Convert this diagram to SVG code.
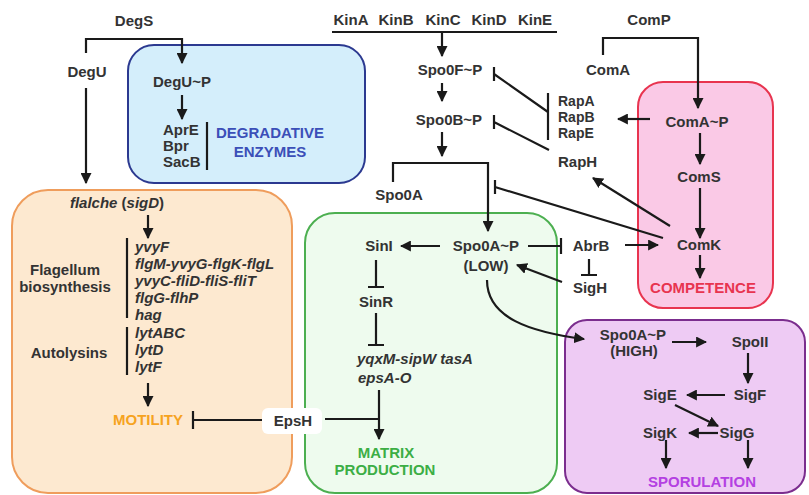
<svg xmlns="http://www.w3.org/2000/svg" width="809" height="495" viewBox="0 0 809 495">
<defs>
<marker id="ah" viewBox="0 0 10 10" refX="9" refY="5" markerWidth="11" markerHeight="11" markerUnits="userSpaceOnUse" orient="auto">
<path d="M0,0 L10,5 L0,10 z" fill="#1a1a1a"/>
</marker>
<style>
.t{font-family:"Liberation Sans",Arial,sans-serif;font-weight:bold;font-size:15px;fill:#333;text-anchor:middle}
.s{text-anchor:start}
.r{font-size:14px}
.i{font-style:italic;text-anchor:start}
.ln{stroke:#1a1a1a;stroke-width:2.2;fill:none}
.ar{marker-end:url(#ah)}
</style>
</defs>
<rect width="809" height="495" fill="#fff"/>

<g id="box-degradative">
<rect x="128" y="45" width="237" height="138" rx="26" fill="#d4eefb" stroke="#2b3990" stroke-width="2"/>
<text class="t" x="270" y="138" style="fill:#3b4fb8">DEGRADATIVE</text>
<text class="t" x="270" y="157" style="fill:#3b4fb8">ENZYMES</text>
</g>
<g id="box-motility">
<rect x="12" y="190" width="280" height="303" rx="36" fill="#fde9d0" stroke="#ef9d5c" stroke-width="2"/>
<text class="t" x="148" y="425" style="fill:#f6a31f">MOTILITY</text>
</g>
<g id="box-matrix">
<rect x="305" y="213" width="252" height="280" rx="30" fill="#eefbee" stroke="#4caf50" stroke-width="2"/>
<text class="t" x="386" y="458" style="fill:#3cae45">MATRIX</text>
<text class="t" x="385" y="475" style="fill:#3cae45">PRODUCTION</text>
</g>
<g id="box-competence">
<rect x="638" y="82" width="135" height="226" rx="25" fill="#fac9e6" stroke="#e8344f" stroke-width="2"/>
<text class="t" x="703" y="293" style="fill:#e8344f">COMPETENCE</text>
</g>
<g id="box-sporulation">
<rect x="565" y="320" width="240" height="173" rx="22" fill="#eecbf4" stroke="#7b2d8e" stroke-width="2"/>
<text class="t" x="702" y="487" style="fill:#b440e2">SPORULATION</text>
</g>

<g id="connectors">
<path class="ln ar" d="M86,53 V39 H182 V63"/>
<path class="ln ar" d="M86,88 V183"/>
<path class="ln ar" d="M182,95 V119"/>
<path class="ln" d="M207,122 V170"/>
<path class="ln" d="M332,32 H557"/>
<path class="ln ar" d="M442,32 V56"/>
<path class="ln ar" d="M442,83 V101"/>
<path class="ln ar" d="M442,132 V156"/>
<path class="ln ar" d="M393,182 V163 H488 V231"/>
<path class="ln" d="M548,93 V140"/>
<path class="ln" d="M548,112 L494,74 M494,67 V81"/>
<path class="ln" d="M549,150 L494,122 M494,115 V129"/>
<path class="ln ar" d="M603,55 V38 H698 V108"/>
<path class="ln ar" d="M650,119 H618"/>
<path class="ln ar" d="M700,133 V164"/>
<path class="ln ar" d="M700,188 V238"/>
<path class="ln ar" d="M700,255 V278"/>
<path class="ln ar" d="M670,226 L593,178"/>
<path class="ln" d="M663,238 L495,187 M495,180 V194"/>
<path class="ln ar" d="M625,245 H658"/>
<path class="ln" d="M528,246 H561 M561,238 V254"/>
<path class="ln" d="M589,259 V275 M581,275 H597"/>
<path class="ln ar" d="M562,282 L517,265"/>
<path class="ln ar" d="M440,246 H401"/>
<path class="ln" d="M376,260 V287 M368,287 H384"/>
<path class="ln" d="M376,313 V345 M368,345 H384"/>
<path class="ln ar" d="M379,390 V439"/>
<path class="ln" d="M325,419 H379"/>
<path class="ln ar" d="M148,215 V238"/>
<path class="ln" d="M127,238 V318"/>
<path class="ln" d="M127,327 V375"/>
<path class="ln ar" d="M148,383 V406"/>
<path class="ln" d="M263,420 H193 M193,411 V429"/>
<path class="ln ar" d="M487,280 C487,318 530,332 584,339"/>
<path class="ln ar" d="M672,342 H706"/>
<path class="ln ar" d="M748,353 V383"/>
<path class="ln ar" d="M725,395 H687"/>
<path class="ln ar" d="M675,405 L718,426"/>
<path class="ln ar" d="M718,433 H689"/>
<path class="ln ar" d="M666,440 V468"/>
<path class="ln ar" d="M748,440 V468"/>
</g>

<g id="DegS"><text class="t" x="134" y="26">DegS</text></g>
<g id="DegU"><text class="t" x="87" y="77">DegU</text></g>
<g id="DegU-P"><text class="t" x="182" y="87">DegU~P</text></g>
<g id="enzymes">
<text class="t s" x="163" y="135">AprE</text>
<text class="t s" x="163" y="151">Bpr</text>
<text class="t s" x="163" y="167">SacB</text>
</g>
<g id="Kin">
<text class="t" x="351" y="25">KinA</text>
<text class="t" x="396" y="25">KinB</text>
<text class="t" x="443" y="25">KinC</text>
<text class="t" x="489" y="25">KinD</text>
<text class="t" x="535" y="25">KinE</text>
</g>
<g id="Spo0F-P"><text class="t" x="450" y="75">Spo0F~P</text></g>
<g id="Spo0B-P"><text class="t" x="449" y="125">Spo0B~P</text></g>
<g id="Spo0A"><text class="t" x="399" y="200">Spo0A</text></g>
<g id="ComP"><text class="t" x="649" y="25">ComP</text></g>
<g id="ComA"><text class="t" x="608" y="75">ComA</text></g>
<g id="Rap">
<text class="t s r" x="558" y="106">RapA</text>
<text class="t s r" x="558" y="122">RapB</text>
<text class="t s r" x="558" y="138">RapE</text>
</g>
<g id="RapH"><text class="t s" x="558" y="167">RapH</text></g>
<g id="ComA-P"><text class="t" x="697" y="127">ComA~P</text></g>
<g id="ComS"><text class="t" x="699" y="182">ComS</text></g>
<g id="ComK"><text class="t" x="699" y="250">ComK</text></g>
<g id="Spo0A-P-low">
<text class="t" x="486" y="251">Spo0A~P</text>
<text class="t" x="486" y="271">(LOW)</text>
</g>
<g id="SinI"><text class="t" x="379" y="251">SinI</text></g>
<g id="SinR"><text class="t" x="376" y="307">SinR</text></g>
<g id="AbrB"><text class="t" x="591" y="251">AbrB</text></g>
<g id="SigH"><text class="t" x="590" y="293">SigH</text></g>
<g id="matrix-genes">
<text class="t i" x="357" y="364">yqxM-sipW tasA</text>
<text class="t i" x="358" y="383">epsA-O</text>
</g>
<g id="EpsH">
<rect x="262" y="408" width="60" height="26" rx="6" fill="#fff"/>
<text class="t" x="293" y="426">EpsH</text>
</g>
<g id="sigD"><text class="t" x="117" y="208"><tspan font-style="italic">flalche</tspan> (<tspan font-style="italic">sigD</tspan>)</text></g>
<g id="flagellum-genes">
<text class="t" x="65" y="275">Flagellum</text>
<text class="t" x="65" y="292">biosynthesis</text>
<text class="t i" x="135" y="252">yvyF</text>
<text class="t i" x="135" y="269">flgM-yvyG-flgK-flgL</text>
<text class="t i" x="135" y="286">yvyC-fliD-fliS-fliT</text>
<text class="t i" x="135" y="303">flgG-flhP</text>
<text class="t i" x="135" y="320">hag</text>
</g>
<g id="autolysins">
<text class="t" x="69" y="358">Autolysins</text>
<text class="t i" x="135" y="338">lytABC</text>
<text class="t i" x="135" y="355">lytD</text>
<text class="t i" x="135" y="372">lytF</text>
</g>
<g id="Spo0A-P-high">
<text class="t" x="633" y="340">Spo0A~P</text>
<text class="t" x="634" y="356">(HIGH)</text>
</g>
<g id="SpoII"><text class="t" x="750" y="347">SpoII</text></g>
<g id="SigF"><text class="t" x="750" y="400">SigF</text></g>
<g id="SigE"><text class="t" x="660" y="400">SigE</text></g>
<g id="SigG"><text class="t" x="737" y="438">SigG</text></g>
<g id="SigK"><text class="t" x="660" y="438">SigK</text></g>
</svg>
